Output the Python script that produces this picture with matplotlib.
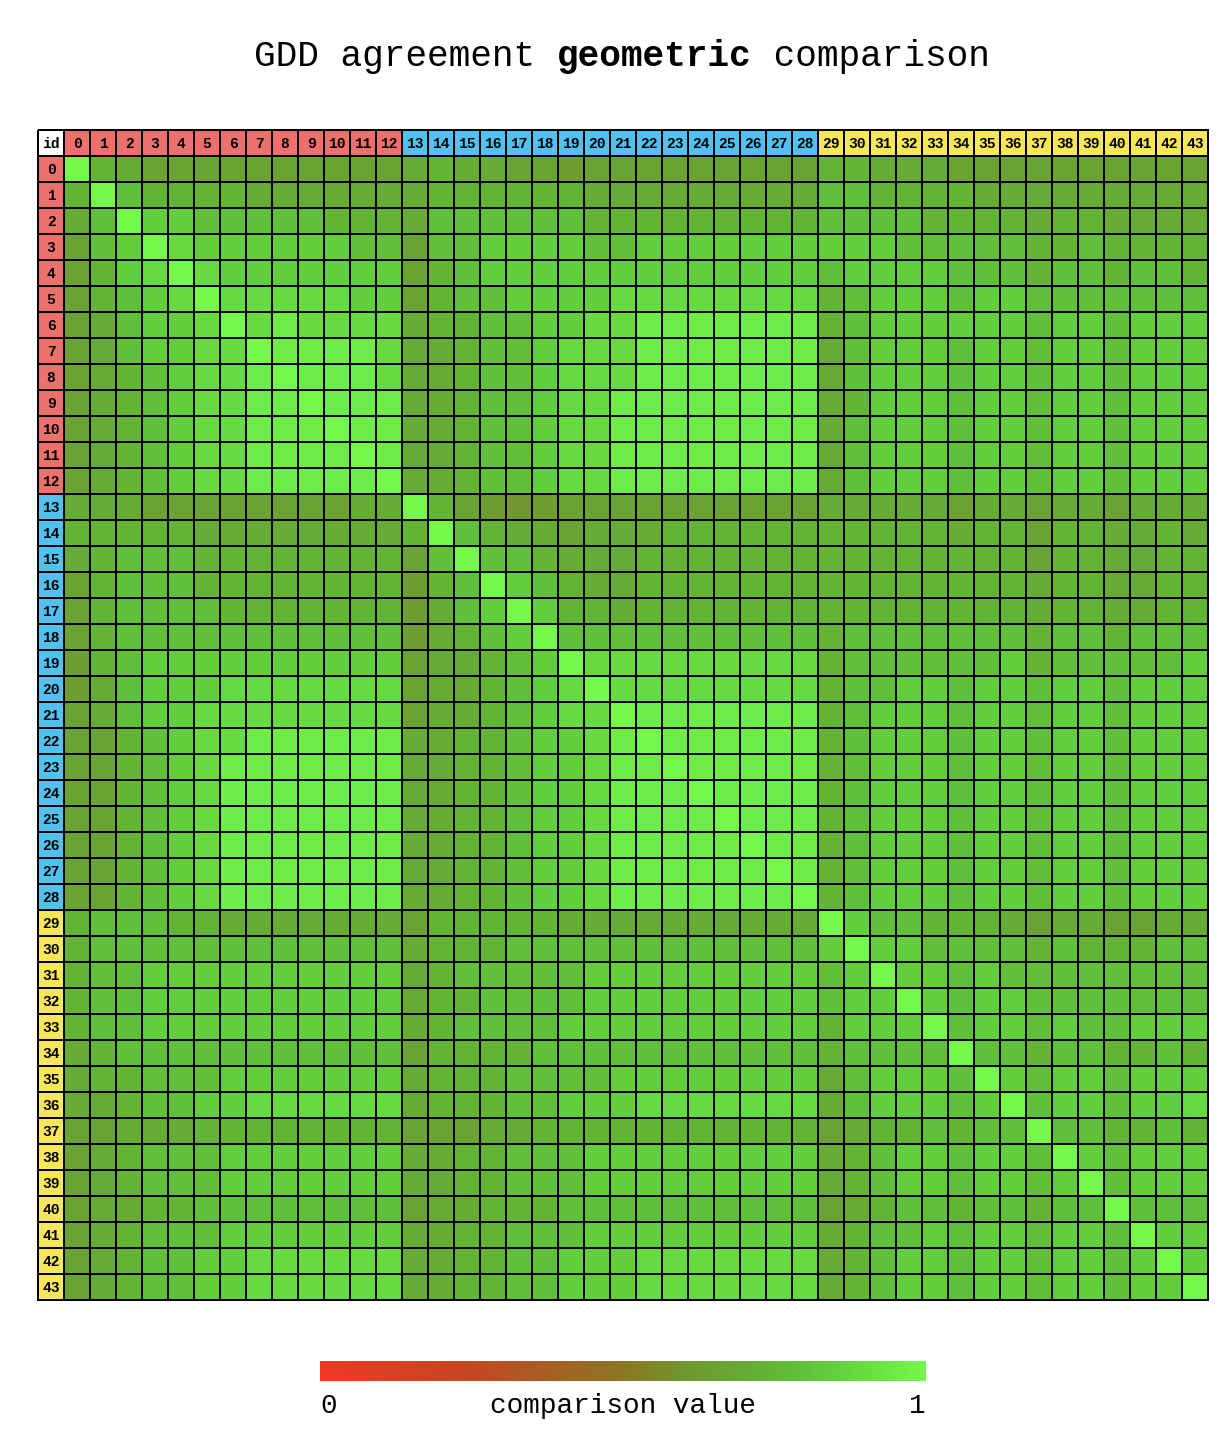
import numpy as np
import matplotlib
matplotlib.use("Agg")
import matplotlib.pyplot as plt
from matplotlib.colors import LinearSegmentedColormap, ListedColormap

# ---------------- data ----------------
ids = list(range(44))
# group of each id: 0 = red (0-12), 1 = blue (13-28), 2 = yellow (29-43)
groups = [0] * 13 + [1] * 16 + [2] * 15

# shade level (0..9) -> comparison value
level_values = [0.60, 0.63, 0.66, 0.70, 0.74, 0.79, 0.84, 0.89, 0.95, 1.00]

# one string per row; columns grouped 0-12 | 13-21 | 22-28 | 29-43
rows = [
    "9432222222222 343322122 2222222 443332222222222",
    "4954444333333 344444433 3333333 554444333333333",
    "3596655555444 355555544 4444444 555544443443333",
    "2569766666655 255666655 6666666 666555554454444",
    "2467976666666 245666666 6666666 566665554554554",
    "2456797777766 245566667 7777777 456665665555555",
    "2356679787777 344556677 8888888 456666665665666",
    "2356677988887 334556777 8888888 356665665665666",
    "2345677898887 334556777 8888888 356665665665666",
    "2345677889888 334556778 8888888 346665665665666",
    "2345677888988 334556778 8888888 356665665665666",
    "2345677888898 334556778 8888888 356665665665666",
    "2345677888889 334556778 8888888 356665665665666",
    "3332222222233 942101222 2222222 333332332332333",
    "4444433333333 495433233 3444444 444443442443343",
    "3455544444444 259554333 4444444 444444442443344",
    "2455544444444 145965433 4444444 444444443443344",
    "2455554444444 135696443 4444444 444444443443344",
    "2455555555555 134569555 5555555 455555554554555",
    "1456666666666 233456977 7777777 455555564555556",
    "1356667777777 233456797 7777777 455665665665666",
    "2356677777777 233456779 8888888 456665665665666",
    "2245677888888 334456678 9888888 456665665665666",
    "2245678888888 334456678 8988888 456665665665666",
    "2245678888888 334456678 8898888 456665665665666",
    "2245678888888 334456678 8889888 456665665665666",
    "2245678888888 334456678 8888988 456665665665666",
    "2245678888888 334456678 8888898 456665665665666",
    "2245678888888 334456678 8888889 456665665665666",
    "4555443333333 244444333 3333333 965544432332233",
    "4555555555555 344455555 5555555 696655554544455",
    "4556666666666 345555566 6666666 569665655555555",
    "4556666666666 344555566 6666666 566965665555555",
    "4556666666666 345555666 6666666 466695665655666",
    "3455555555555 244445555 5555555 455559554554454",
    "3445556666666 344455556 6666666 356665965665666",
    "3345566777777 344455666 7777777 356665695665667",
    "2233344444444 222334444 4444444 234454559554454",
    "2345556666666 334455566 6666666 345665665965666",
    "2345556666666 334455566 6666666 345665665695666",
    "2334455555555 233444555 5555555 234554554559555",
    "2345556666666 334455566 6666666 345565665665966",
    "2345566777777 334455666 7777777 345665665665696",
    "2345566777777 334455666 7777777 345665665665669",
]

title_parts = [("GDD agreement ", "normal"), ("geometric", "bold"), (" comparison", "normal")]
legend_label = "comparison value"

# ---------------- build ----------------
values = np.array([[level_values[int(c)] for c in r.replace(" ", "")] for r in rows])

stops = [
    (0.00, (238, 56, 40)),
    (0.25, (196, 72, 36)),
    (0.50, (140, 118, 36)),
    (0.60, (113, 151, 46)),
    (0.70, (102, 172, 52)),
    (0.80, (96, 194, 58)),
    (0.90, (103, 222, 66)),
    (1.00, (117, 248, 76)),
]
cmap = LinearSegmentedColormap.from_list(
    "cmp", [(p, tuple(c / 255 for c in rgb)) for p, rgb in stops])

group_cmap = ListedColormap(["#ffffff", "#ec706c", "#53c1f0", "#f7e55a"])

W, H = 1232, 1446
fig = plt.figure(figsize=(W / 100, H / 100), dpi=100)

N = len(ids)
ax = fig.add_axes([38 / W, 1 - 1300 / H, 1170 / W, 1170 / H])
ax.set_xlim(0, N + 1)
ax.set_ylim(N + 1, 0)
ax.axis("off")

lw = 1.35
edges = np.arange(1, N + 2)
m = ax.pcolormesh(edges, edges, values, cmap=cmap, vmin=0, vmax=1,
                  edgecolors="black", linewidth=lw)
m.set_clip_on(False)

hdr = np.array([0] + [g + 1 for g in groups])
top = ax.pcolormesh(np.arange(0, N + 2), [0, 1], hdr[None, :], cmap=group_cmap,
                    vmin=-0.5, vmax=3.5, edgecolors="black", linewidth=lw)
top.set_clip_on(False)
left = ax.pcolormesh([0, 1], edges, hdr[1:, None], cmap=group_cmap,
                     vmin=-0.5, vmax=3.5, edgecolors="black", linewidth=lw)
left.set_clip_on(False)

lab_font = dict(family="Liberation Mono", weight="bold", fontsize=10.5,
                ha="center", va="center_baseline", color="black")
ax.text(0.5, 0.5, "id", **lab_font)
for k, idv in enumerate(ids):
    ax.text(k + 1.5, 0.5, str(idv), **lab_font)
    ax.text(0.5, k + 1.5, str(idv), **lab_font)

# ---------------- title ----------------
fs_title = 26
char_w = fs_title * 100 / 72 * 0.6
x = 254
for txt, wt in title_parts:
    fig.text(x / W, 1 - 57 / H, txt, family="Liberation Mono", weight=wt,
             fontsize=fs_title, ha="left", va="center", color="black")
    x += len(txt) * char_w

# ---------------- colour legend ----------------
cax = fig.add_axes([320 / W, 1 - 1381 / H, 606 / W, 20 / H])
cax.imshow(np.linspace(0, 1, 512)[None, :], aspect="auto", cmap=cmap,
           vmin=0, vmax=1, extent=[0, 1, 0, 1])
cax.axis("off")
leg_font = dict(family="Liberation Mono", fontsize=20, va="center", color="black")
fig.text(320 / W, 1 - 1406 / H, "0", ha="left", **leg_font)
fig.text(623 / W, 1 - 1406 / H, legend_label, ha="center", **leg_font)
fig.text(926 / W, 1 - 1406 / H, "1", ha="right", **leg_font)

fig.savefig("out.png", dpi=100, facecolor="white")
